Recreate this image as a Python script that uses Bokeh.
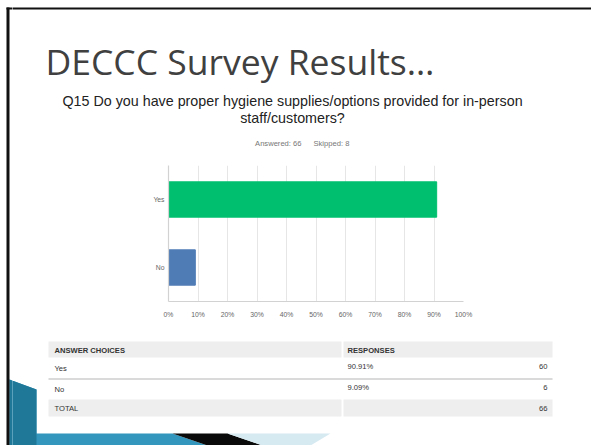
from bokeh.plotting import figure
from bokeh.layouts import column, row
from bokeh.models import ColumnDataSource, FactorRange, Range1d, FixedTicker
from bokeh.core.properties import value
from bokeh.embed import file_html
from bokeh.resources import INLINE

# ---------------- data ----------------
slide_title = "DECCC Survey Results…"
question_line1 = "Q15 Do you have proper hygiene supplies/options provided for in-person"
question_line2 = "staff/customers?"
answered = 66
skipped = 8
choices = ["Yes", "No"]
percents = [90.91, 9.09]
counts = [60, 6]
total = 66
bar_colors = ["#00bf6f", "#507cb6"]
tick_values = [0, 10, 20, 30, 40, 50, 60, 70, 80, 90, 100]
tick_labels = ["0%", "10%", "20%", "30%", "40%", "50%", "60%", "70%", "80%", "90%", "100%"]
header_labels = ["ANSWER CHOICES", "RESPONSES"]

W, H = 591, 445
STRIP_W = 12
TOP_H = 165      # title band
MID_H = 165      # chart band
BOT_H = H - TOP_H - MID_H
CW = W - STRIP_W


def canvas_fig(x0, y0, w, h):
    p = figure(width=w, height=h, x_range=Range1d(x0, x0 + w), y_range=Range1d(y0 + h, y0),
               x_axis_location=None, y_axis_location=None,
               min_border=0, min_border_left=0, min_border_right=0,
               min_border_top=0, min_border_bottom=0,
               output_backend="svg", toolbar_location=None)
    p.grid.visible = False
    p.outline_line_color = None
    p.background_fill_color = "white"
    p.border_fill_color = "white"
    return p


def txt(p, x, y, s, size, color="#333333", font="Liberation Sans", align="left",
        baseline="middle", style="normal"):
    p.text(x=[x], y=[y], text=[s], text_font=value(font), text_font_size=value(size),
           text_color=color, text_align=align, text_baseline=baseline,
           text_font_style=style)


def rect(p, l, t, r, b, color):
    p.quad(left=[l], right=[r], top=[t], bottom=[b], fill_color=color, line_color=None)


def decoration(p):
    p.patch(x=[9, 36, 36, 172, 207, 9], y=[379, 389, 433, 433, 445, 445],
            fill_color="#3396bd", line_color=None)
    p.patch(x=[9, 36, 36, 9], y=[379, 389, 445, 445], fill_color="#1f7898", line_color=None)
    p.patch(x=[172, 227, 262, 207], y=[433, 433, 445, 445], fill_color="#0a0a0a", line_color=None)
    p.patch(x=[227, 330, 310, 262], y=[433, 433, 445, 445], fill_color="#d6eaf1", line_color=None)


# ---------------- left strip (slide frame line) ----------------
strip = canvas_fig(0, 0, STRIP_W, H)
decoration(strip)
rect(strip, 6, 7, 9, H, "#111111")
rect(strip, 6, 7, STRIP_W, 9, "#111111")

# ---------------- top band: slide title ----------------
top = canvas_fig(STRIP_W, 0, CW, TOP_H)
rect(top, 6, 7, W, 9, "#111111")
txt(top, 45, 60, slide_title, "35.5px", color="#404040", font="Open Sans")
txt(top, 292, 100, question_line1, "14.3px", color="#222222", align="center")
txt(top, 292, 117, question_line2, "14.3px", color="#222222", align="center")
txt(top, 301, 143, f"Answered: {answered}", "7.6px", color="#777777", align="right")
txt(top, 313, 143, f"Skipped: {skipped}", "7.6px", color="#777777")

# ---------------- middle band: bar chart ----------------
FL, FW, FH = 168, 295, 136
chart = figure(
    y_range=FactorRange(factors=list(reversed(choices))),
    x_range=Range1d(0, 100),
    frame_width=FW, frame_height=FH,
    min_border_left=FL - STRIP_W, min_border_right=W - FL - FW,
    min_border_top=0, min_border_bottom=MID_H - FH,
    output_backend="svg", toolbar_location=None,
)
chart.outline_line_color = None
chart.background_fill_color = "white"
chart.border_fill_color = "white"

src = ColumnDataSource(dict(choice=choices, pct=percents, color=bar_colors))
chart.hbar(y="choice", right="pct", left=0, height=0.52, color="color", source=src)

chart.xaxis.ticker = FixedTicker(ticks=tick_values)
chart.xaxis.major_label_overrides = {v: l for v, l in zip(tick_values, tick_labels)}
chart.xgrid.ticker = FixedTicker(ticks=tick_values)
chart.xgrid.grid_line_color = "#e6e6e6"
chart.ygrid.grid_line_color = None
for ax in (chart.xaxis[0], chart.yaxis[0]):
    ax.axis_line_color = "#d2d2d2"
    ax.axis_line_width = 1.2
    ax.major_tick_line_color = None
    ax.minor_tick_line_color = None
    ax.major_tick_out = 0
    ax.major_tick_in = 0
    ax.major_label_text_font = "Liberation Sans"
    ax.major_label_text_font_size = "6.8px"
    ax.major_label_text_color = "#666666"
chart.xaxis.major_label_standoff = 9
chart.yaxis.major_label_standoff = 4

# ---------------- bottom band: table + decoration ----------------
y0 = TOP_H + MID_H
bot = canvas_fig(STRIP_W, y0, CW, BOT_H)
decoration(bot)

TL, TM, TR = 48, 342, 552
rect(bot, TL, 341, TM - 1, 357, "#eeeeee")
rect(bot, TM + 1, 341, TR, 357, "#eeeeee")
rect(bot, TL, 377.5, TR, 379.5, "#dadada")
rect(bot, TL, 399, TM - 1, 416, "#eeeeee")
rect(bot, TM + 1, 399, TR, 416, "#eeeeee")
txt(bot, TL + 6, 350, header_labels[0], "7.6px", style="bold")
txt(bot, TM + 5, 350, header_labels[1], "7.6px", style="bold")
row_y = [368, 389]
for i in range(len(choices)):
    yy = row_y[i]
    txt(bot, TL + 6, yy, choices[i], "7.6px")
    txt(bot, TM + 5, yy - 2.5, f"{percents[i]:.2f}%", "7.6px")
    txt(bot, TR - 5, yy - 2.5, str(counts[i]), "7.6px", align="right")
txt(bot, TL + 6, 407.5, "TOTAL", "7.6px")
txt(bot, TR - 5, 407.5, str(total), "7.6px", align="right")

layout = row(strip, column(top, row(chart, spacing=0), bot, spacing=0), spacing=0)
open("out.html", "w").write(file_html(layout, INLINE))
